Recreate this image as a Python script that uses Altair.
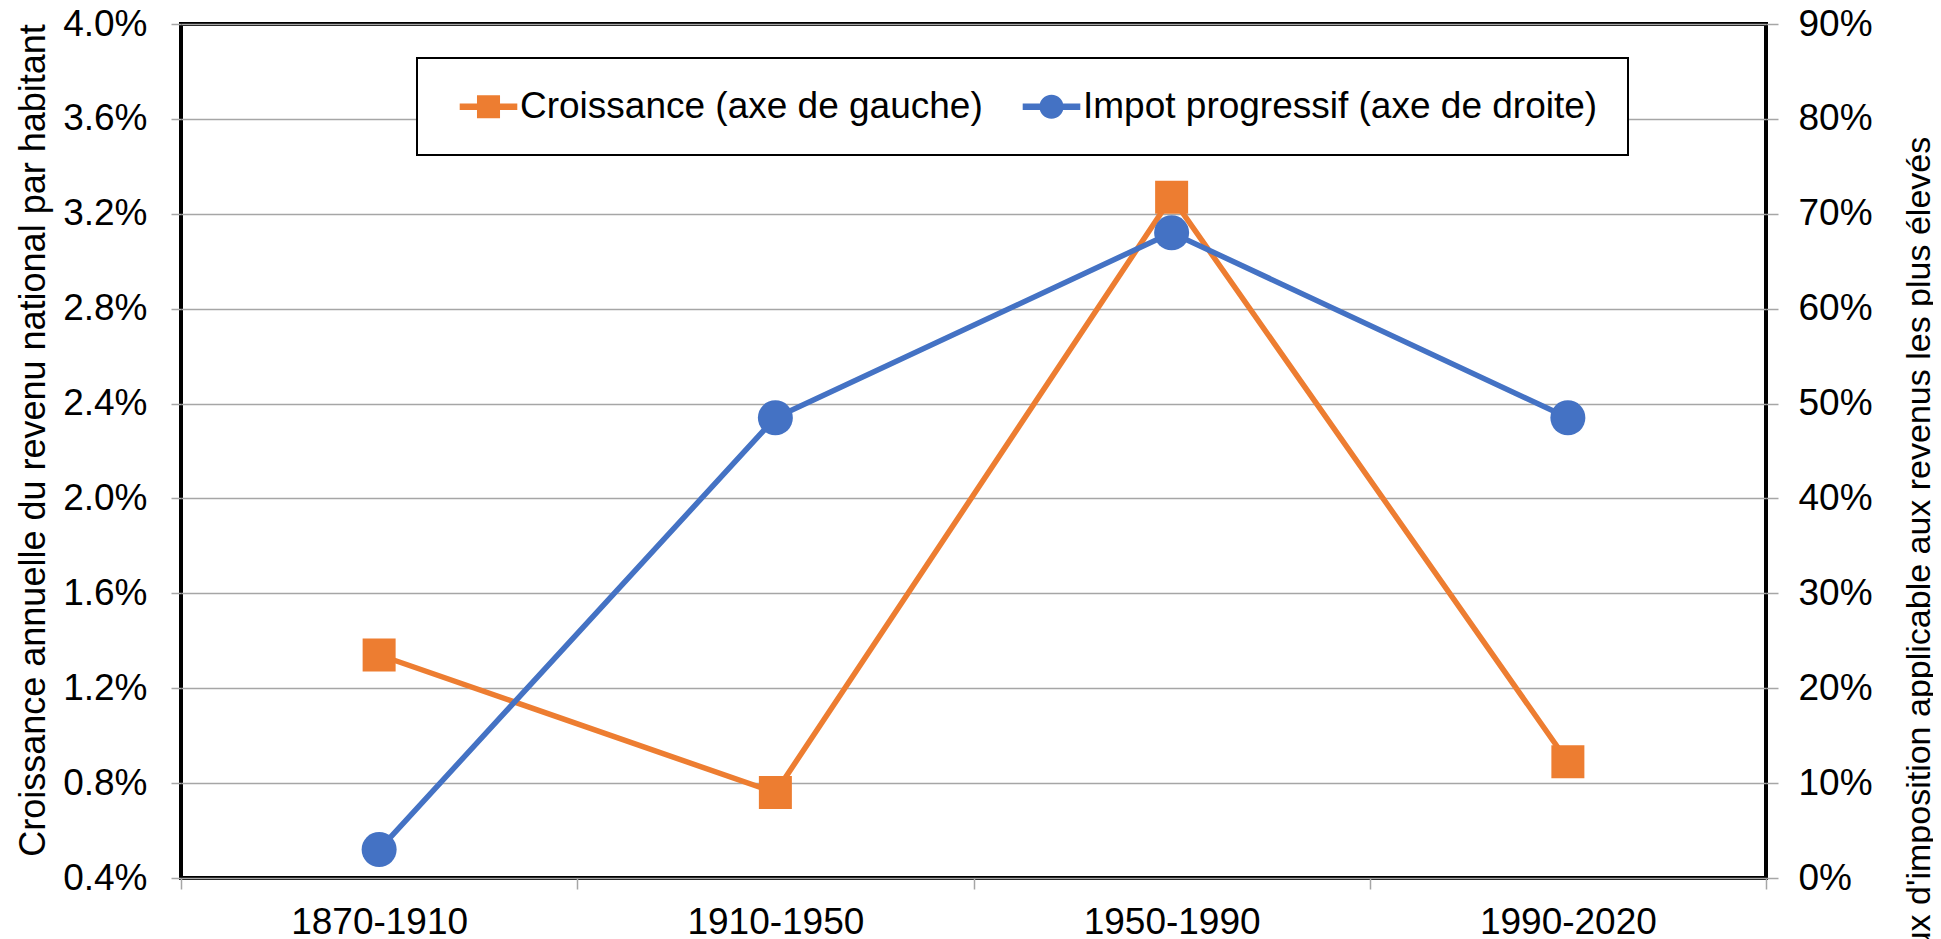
import altair as alt
import pandas as pd

# ---------------- data ----------------
periods = ["1870-1910", "1910-1950", "1950-1990", "1990-2020"]
croissance = [1.34, 0.76, 3.27, 0.89]      # % per year  (left axis)
impot = [3.0, 48.5, 68.0, 48.5]            # top marginal tax rate, % (right axis)
series_names = ["Croissance (axe de gauche)", "Impot progressif (axe de droite)"]
left_ticks = [0.4, 0.8, 1.2, 1.6, 2.0, 2.4, 2.8, 3.2, 3.6, 4.0]
right_ticks = [0, 10, 20, 30, 40, 50, 60, 70, 80, 90]

ORANGE = "#ED7D31"
BLUE = "#4472C4"
GRID = "#a6a6a6"
FONT = "Liberation Sans"

df_g = pd.DataFrame({"periode": periods, "valeur": croissance, "serie": series_names[0]})
df_t = pd.DataFrame({"periode": periods, "valeur": impot, "serie": series_names[1]})
df_leg = pd.DataFrame({"periode": periods[:2], "valeur": croissance[:2], "serie": series_names})

# legend symbols: line with a marker
sq_path = "M-1.6,-0.18H1.6V0.18H-1.6Z M-0.64,-0.64H0.64V0.64H-0.64Z"
ci_path = ("M-1.6,-0.18H1.6V0.18H-1.6Z "
           "M-0.67,0A0.67,0.67,0,1,1,0.67,0A0.67,0.67,0,1,1,-0.67,0Z")

x_enc = alt.X(
    "periode:N", sort=periods,
    scale=alt.Scale(type="band", paddingInner=0, paddingOuter=0),
    axis=alt.Axis(title=None, labelAngle=0, domain=False, tickBand="extent",
                  tickColor=GRID, tickWidth=1.5, tickSize=11, labelPadding=15,
                  labelFont=FONT, labelFontSize=37, labelColor="black"),
)

left_axis = alt.Axis(
    orient="left", values=left_ticks,
    labelExpr="format(datum.value, '.1f') + '%'",
    grid=True, gridColor=GRID, gridWidth=1.5,
    tickColor=GRID, tickWidth=1.5, tickSize=10, labelPadding=24,
    labelFont=FONT, labelFontSize=37, labelColor="black", domain=False,
    title="Croissance annuelle du revenu national par habitant",
    titleAngle=270, titleX=-137, titleY=416, titleAlign="center",
    titleBaseline="alphabetic", titleFont=FONT, titleFontSize=36,
    titleFontWeight="normal", titleColor="black",
)
right_axis = alt.Axis(
    orient="right", values=right_ticks,
    labelExpr="format(datum.value, 'd') + '%'",
    grid=False, tickColor=GRID, tickWidth=1.5, tickSize=12, labelPadding=20,
    labelFont=FONT, labelFontSize=37, labelColor="black", domain=False,
    title="Taux d'imposition applicable aux revenus les plus élevés",
    titleAngle=270, titleX=163, titleY=537, titleAlign="center",
    titleBaseline="alphabetic", titleFont=FONT, titleFontSize=34,
    titleFontWeight="normal", titleColor="black",
)

y_left = alt.Y("valeur:Q", scale=alt.Scale(domain=[0.4, 4.0], nice=False, zero=False), axis=left_axis)
y_right = alt.Y("valeur:Q", scale=alt.Scale(domain=[0, 90], nice=False, zero=False), axis=right_axis)

legend = alt.Legend(
    title=None, orient="none", legendX=236, legendY=34, direction="horizontal",
    strokeColor="black", fillColor="white", padding=30,
    symbolSize=1296, symbolOffset=23, labelOffset=13, symbolStrokeWidth=0,
    symbolOpacity=1, columnPadding=27, labelFont=FONT, labelFontSize=37,
    labelColor="black", labelLimit=0,
)

g_base = alt.Chart(df_g).encode(x=x_enc, y=y_left)
g_line = g_base.mark_line(color=ORANGE, strokeWidth=5.5)
g_pts = g_base.mark_point(shape="square", filled=True, color=ORANGE, size=1089, opacity=1)

leg_layer = alt.Chart(df_leg).mark_point(filled=True, opacity=0).encode(
    x=x_enc, y=y_left,
    color=alt.Color("serie:N", scale=alt.Scale(domain=series_names, range=[ORANGE, BLUE]), legend=legend),
    shape=alt.Shape("serie:N", scale=alt.Scale(domain=series_names, range=[sq_path, ci_path]), legend=legend),
)

t_base = alt.Chart(df_t).encode(x=x_enc, y=y_right)
t_line = t_base.mark_line(color=BLUE, strokeWidth=5.5)
t_pts = t_base.mark_point(shape="circle", filled=True, color=BLUE, size=1225, opacity=1)

left_group = alt.layer(g_line, g_pts, leg_layer)
right_group = alt.layer(t_line, t_pts)

chart = (
    alt.layer(left_group, right_group)
    .resolve_scale(y="independent")
    .properties(
        width=1585, height=854,
        autosize=alt.AutoSizeParams(type="none"),
        padding={"left": 173, "top": 16, "right": 167, "bottom": 61},
        background="white",
    )
    .configure_view(stroke="black", strokeWidth=4)
    .configure_legend(strokeWidth=2)
)

chart.save("out.html", embed_options={"renderer": "svg", "actions": False})
